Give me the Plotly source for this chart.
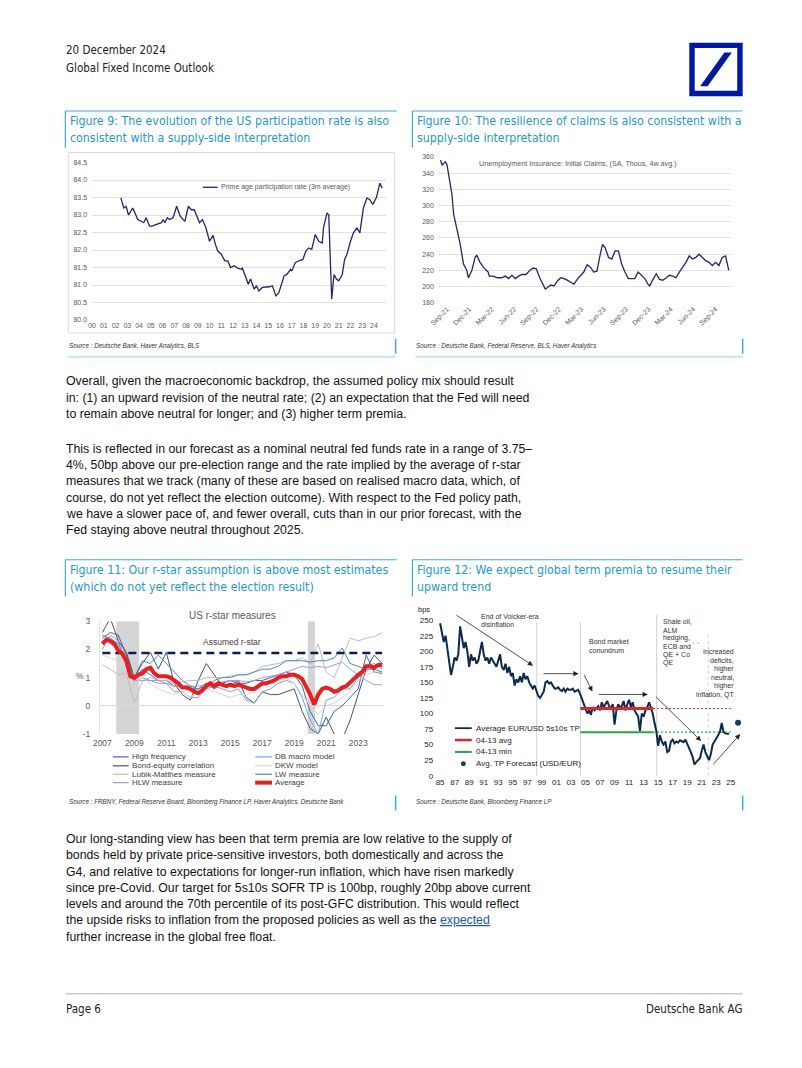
import plotly.graph_objects as go

W, H = 802, 1068

# ---------------- DATA ----------------
# Figure 9: prime age participation rate (3m avg)
part_years = [2002.45, 2002.7, 2002.9, 2003.1, 2003.46, 2003.9, 2004.4, 2004.6, 2004.9, 2005.1,
              2005.5, 2005.9, 2006.05, 2006.2, 2006.4, 2006.6, 2006.9, 2007.2, 2007.5, 2007.9,
              2008.2, 2008.45, 2008.7, 2009.15, 2009.4, 2009.7, 2010.0, 2010.3, 2010.5, 2010.7,
              2011.0, 2011.3, 2011.55, 2011.8, 2012.1, 2012.4, 2012.7, 2012.8, 2013.1, 2013.3,
              2013.5, 2013.8, 2014.0, 2014.2, 2014.5, 2014.8, 2015.1, 2015.35, 2015.65, 2015.9,
              2016.1, 2016.35, 2016.6, 2016.9, 2017.0, 2017.3, 2017.65, 2017.95, 2018.2, 2018.45,
              2018.7, 2019.0, 2019.3, 2019.6, 2019.7, 2020.0, 2020.15, 2020.4, 2020.6, 2020.8,
              2021.0, 2021.3, 2021.5, 2021.7, 2022.0, 2022.25, 2022.55, 2022.8, 2023.1, 2023.4,
              2023.65, 2023.9, 2024.2, 2024.5, 2024.7]
part_rate = [83.49, 83.2, 83.25, 83.0, 83.2, 82.87, 82.78, 82.92, 82.68, 82.68,
             82.73, 82.78, 82.87, 82.78, 82.92, 82.87, 82.92, 83.25, 82.97, 82.82,
             83.25, 83.15, 83.15, 82.78, 82.87, 82.63, 82.25, 82.42, 82.16, 81.97,
             81.88, 81.69, 81.69, 81.5, 81.55, 81.48, 81.45, 81.48, 81.21, 81.02,
             81.17, 80.88, 80.98, 80.83, 80.93, 80.93, 80.95, 80.98, 80.69, 80.78,
             81.02, 81.26, 81.31, 81.45, 81.4, 81.64, 81.7, 81.73, 81.97, 82.06,
             82.02, 82.44, 82.25, 82.2, 82.63, 83.06, 83.01, 80.6, 81.3, 81.17,
             81.12, 81.3, 81.73, 81.88, 82.25, 82.49, 82.63, 82.49, 83.2, 83.49,
             83.44, 83.3, 83.49, 83.91, 83.77]
part_xticks = [2000, 2001, 2002, 2003, 2004, 2005, 2006, 2007, 2008, 2009, 2010, 2011, 2012,
               2013, 2014, 2015, 2016, 2017, 2018, 2019, 2020, 2021, 2022, 2023, 2024]
part_xlabels = ["00", "01", "02", "03", "04", "05", "06", "07", "08", "09", "10", "11", "12",
                "13", "14", "15", "16", "17", "18", "19", "20", "21", "22", "23", "24"]
part_yticks = [80.0, 80.5, 81.0, 81.5, 82.0, 82.5, 83.0, 83.5, 84.0, 84.5]

# Figure 10: initial claims (months since Sep-21)
claims_months = [-0.88, -0.66, -0.44, -0.22, 0.0, 0.22, 0.67, 0.89, 1.33, 1.77,
                 2.21, 2.65, 2.87, 3.32, 3.76, 3.98, 4.42, 4.86, 5.30, 5.52,
                 5.66, 6.19, 6.76, 7.29, 7.82, 8.26, 8.70, 9.15, 9.59, 10.03,
                 10.60, 11.09, 11.53, 11.97, 12.42, 12.86, 13.17, 13.48, 13.92, 14.36,
                 14.80, 15.24, 15.68, 16.12, 16.57, 17.01, 17.45, 17.89, 18.33, 18.78,
                 19.22, 19.66, 20.10, 20.54, 20.85, 21.20, 21.65, 22.09, 22.53, 22.97,
                 23.41, 23.85, 24.30, 24.74, 25.18, 25.62, 26.06, 26.51, 26.95, 27.17,
                 27.61, 28.05, 28.49, 28.93, 29.38, 29.82, 30.26, 30.70, 31.14, 31.58,
                 32.03, 32.47, 32.91, 33.35, 33.79, 34.23, 34.68, 35.12, 35.56, 36.00,
                 36.44, 36.89, 37.33, 37.77]
claims_vals = [356, 350, 352, 354, 350, 338, 313, 289, 272, 252,
               228, 220, 211, 220, 236, 239, 230, 224, 220, 218,
               213, 213, 211, 211, 213, 210, 214, 210, 213, 215,
               215, 220, 223, 222, 211, 203, 197, 199, 202, 201,
               207, 211, 210, 208, 205, 203, 209, 213, 218, 227,
               224, 218, 219, 240, 252, 248, 236, 234, 244, 244,
               228, 218, 210, 210, 210, 218, 214, 210, 203, 201,
               209, 216, 209, 208, 211, 214, 213, 211, 218, 224,
               230, 238, 234, 236, 240, 236, 232, 230, 226, 230,
               226, 236, 238, 220]
claims_xticks = [0, 3, 6, 9, 12, 15, 18, 21, 24, 27, 30, 33, 36]
claims_xlabels = ["Sep-21", "Dec-21", "Mar-22", "Jun-22", "Sep-22", "Dec-22", "Mar-23",
                  "Jun-23", "Sep-23", "Dec-23", "Mar-24", "Jun-24", "Sep-24"]
claims_yticks = [180, 200, 220, 240, 260, 280, 300, 320, 340, 360]

# Figure 11: r-star measures (semi-annual 2007.0 ... 2024.5)
rstar_years = [2007.0, 2007.5, 2008.0, 2008.5, 2009.0, 2009.5, 2010.0, 2010.5, 2011.0, 2011.5,
               2012.0, 2012.5, 2013.0, 2013.5, 2014.0, 2014.5, 2015.0, 2015.5, 2016.0, 2016.5,
               2017.0, 2017.5, 2018.0, 2018.5, 2019.0, 2019.5, 2020.0, 2020.5, 2021.0, 2021.5,
               2022.0, 2022.5, 2023.0, 2023.5, 2024.0, 2024.5]
high_freq = [2.4, 2.6, 2.5, 1.8, 0.9, 1.3, 1.1, 0.9, 0.9, 0.7, 0.7, 0.6, 0.6, 0.8, 0.6, 0.8, 0.9, 0.8,
             0.8, 0.9, 0.9, 1.0, 1.1, 1.2, 1.1, 0.7, -0.2, -0.7, -0.7, -0.2, 0.0, 0.3, 0.6, 1.8, 1.2, 1.15]
bond_equity = [2.6, 3.1, 2.3, 1.9, 1.0, 1.5, 1.9, 1.3, 1.9, 0.8, 0.4, 0.2, 0.9, 1.5, 1.1, 0.7, 0.7, 0.9,
               0.3, 0.1, 0.5, 0.4, 0.4, 0.5, 0.6, -0.2, -0.8, -1.0, -0.4, -1.0, -1.2, -0.5, 0.4, 1.3, 1.8, 1.5]
lubik_matthes = [1.45, 1.3, 1.1, 1.15, 0.1, 0.9, 1.0, 0.9, 0.9, 0.8, 0.85, 0.9, 0.9, 1.0, 1.0, 1.0, 1.05, 1.1,
                 1.1, 1.2, 1.4, 1.45, 1.5, 1.6, 1.6, 1.7, 1.5, 2.2, 1.2, 1.0, 1.7, 2.4, 2.3, 2.4, 2.45, 2.6]
hlw = [2.3, 2.2, 2.0, 1.5, 0.9, 0.9, 0.9, 0.9, 0.8, 0.7, 0.7, 0.7, 0.7, 0.75, 0.8, 0.85, 0.9, 0.9,
       0.85, 0.9, 1.0, 1.05, 1.1, 1.2, 1.3, 1.4, 1.35, 1.4, 1.35, 1.45, 1.55, 1.3, 1.1, 0.9, 0.75, 0.75]
db_macro = [2.0, 2.5, 2.3, 1.4, 0.8, 1.0, 0.9, 0.8, 0.8, 0.5, 0.5, 0.3, 0.3, 0.6, 0.7, 0.6, 0.5, 0.6,
            0.2, 0.1, 0.5, 0.6, 0.8, 0.9, 0.8, 0.3, -0.5, -1.0, 0.2, 0.3, 0.6, 0.6, 1.0, 1.4, 1.5, 1.3]
dkw = [1.8, 1.7, 1.6, 1.2, 0.8, 1.0, 0.8, 0.6, 0.5, 0.4, 0.5, 0.3, 0.5, 0.6, 0.5, 0.4, 0.3, 0.4,
       0.4, 0.5, 0.7, 0.8, 0.9, 1.0, 0.8, 0.4, 0.0, -0.3, 0.0, 0.1, 0.3, 0.5, 0.9, 1.1, 1.2, 1.2]
lw = [2.5, 2.4, 2.2, 1.6, 1.0, 1.6, 1.5, 1.8, 1.5, 1.2, 0.9, 0.7, 0.6, 0.7, 0.9, 1.0, 1.0, 1.1,
      1.1, 1.2, 1.3, 1.3, 1.4, 1.6, 1.6, 1.6, 1.55, 1.6, 1.6, 1.7, 2.05, 1.5, 1.4, 1.3, 1.3, 1.2]
avg_years = [2007.0, 2007.25, 2007.5, 2007.75, 2008.0, 2008.25, 2008.5, 2008.75, 2009.0, 2009.25,
             2009.5, 2009.75, 2010.0, 2010.25, 2010.5, 2010.75, 2011.0, 2011.25, 2011.5, 2011.75,
             2012.0, 2012.25, 2012.5, 2012.75, 2013.0, 2013.25, 2013.5, 2013.75, 2014.0, 2014.25,
             2014.5, 2014.75, 2015.0, 2015.25, 2015.5, 2015.75, 2016.0, 2016.25, 2016.5, 2016.75,
             2017.0, 2017.25, 2017.5, 2017.75, 2018.0, 2018.25, 2018.5, 2018.75, 2019.0, 2019.25,
             2019.5, 2019.75, 2020.0, 2020.25, 2020.5, 2020.75, 2021.0, 2021.25, 2021.5, 2021.75,
             2022.0, 2022.25, 2022.5, 2022.75, 2023.0, 2023.25, 2023.5, 2023.75, 2024.0, 2024.25, 2024.5]
rstar_avg = [2.2, 2.35, 2.3, 2.2, 1.95, 1.85, 1.6, 1.05, 1.0, 1.1,
             1.15, 1.3, 1.35, 1.15, 1.05, 1.05, 1.05, 1.0, 0.9, 0.8,
             0.65, 0.65, 0.6, 0.5, 0.45, 0.55, 0.7, 0.8, 0.7, 0.8,
             0.75, 0.7, 0.75, 0.7, 0.75, 0.7, 0.65, 0.6, 0.6, 0.7,
             0.8, 0.8, 0.85, 0.9, 1.0, 1.05, 1.05, 1.1, 1.1, 1.05,
             0.95, 0.7, 0.4, 0.05, 0.4, 0.6, 0.65, 0.6, 0.5, 0.55,
             0.65, 0.7, 0.85, 1.0, 1.1, 1.2, 1.4, 1.4, 1.35, 1.45, 1.45]
assumed_rstar = 1.875
recessions = [(2007.87, 2009.3), (2019.85, 2020.3)]
rstar_xticks = [2007, 2009, 2011, 2013, 2015, 2017, 2019, 2021, 2023]
rstar_yticks = [-1, 0, 1, 2, 3]
rstar_ylabels = ["-1", "0", "1", "2", "3"]

# Figure 12: average EUR/USD 5s10s term premium (quarterly, bps)
tp_years = [1985 + 0.25 * i for i in range(160)]
tp_vals = [245, 230, 215, 225, 205, 180, 162, 175, 190, 185, 195, 240, 225, 205, 215, 200,
           175, 195, 185, 190, 180, 185, 200, 215, 195, 185, 190, 180, 190, 185, 180, 175,
           185, 195, 175, 170, 180, 165, 175, 160, 165, 145, 155, 150, 160, 150, 165, 155,
           160, 150, 145, 140, 145, 135, 128, 125, 130, 135, 150, 152, 148, 150, 145, 140,
           140, 142, 138, 136, 140, 135, 140, 138, 138, 140, 135, 137, 138, 132, 125, 118,
           108, 100, 105, 98, 110, 105, 108, 112, 105, 118, 110, 115, 120, 112, 108, 115,
           82, 105, 115, 110, 112, 120, 105, 115, 122, 110, 118, 105, 100, 95, 72, 100,
           95, 105, 110, 118, 110, 100, 85, 72, 48, 65, 55, 50, 55, 38, 40, 55,
           58, 52, 55, 53, 57, 55, 54, 58, 52, 45, 38, 30, 18, 22, 25, 28,
           40, 50, 38, 30, 25, 35, 50, 55, 60, 65, 70, 85, 70, 68, 67, 67]
avg_0413 = 108
min_0413 = 70
period_0413 = (2004.3, 2014.3)
extend_to = 2025.0
tp_forecast_year = 2026.0
tp_forecast = 85
regime_breaks = [(1998.3, 247, "solid"), (2004.3, 247, "solid"), (2014.8, 259, "solid"), (2021.9, 231, "dot")]
tp_xticks = [1985, 1987, 1989, 1991, 1993, 1995, 1997, 1999, 2001, 2003, 2005, 2007, 2009, 2011,
             2013, 2015, 2017, 2019, 2021, 2023, 2025]
tp_xlabels = ["85", "87", "89", "91", "93", "95", "97", "99", "01", "03", "05", "07", "09", "11",
              "13", "15", "17", "19", "21", "23", "25"]
tp_yticks = [0, 25, 50, 75, 100, 125, 150, 175, 200, 225, 250]

# ---------------- STYLE / HELPERS ----------------
BODY = "Liberation Sans, Arial, sans-serif"
NARROW = "Liberation Sans Narrow, Arial Narrow, DejaVu Sans Condensed, sans-serif"
BLUE = "#1b9ad6"
BLUE_LINE = "#3fa9df"
GRAY = "#595959"

annotations = []
shapes = []


def X(x):
    return x / W


def Y(y):
    return 1 - y / H


def text(x, y, s, size, color="#1a1a1a", family=BODY, xanchor="left", yanchor="middle", **kw):
    annotations.append(dict(x=X(x), y=Y(y), xref="paper", yref="paper", text=s, showarrow=False,
                            xanchor=xanchor, yanchor=yanchor, borderpad=0,
                            font=dict(size=size, color=color, family=family), **kw))


def pline(x0, y0, x1, y1, color, width=1, dash="solid"):
    shapes.append(dict(type="line", xref="paper", yref="paper", x0=X(x0), y0=Y(y0), x1=X(x1), y1=Y(y1),
                       line=dict(color=color, width=width, dash=dash)))


def prect(x0, y0, x1, y1, fill=None, color=None, width=1):
    shapes.append(dict(type="rect", xref="paper", yref="paper", x0=X(x0), y0=Y(y0), x1=X(x1), y1=Y(y1),
                       fillcolor=fill if fill else "rgba(0,0,0,0)",
                       line=dict(color=color if color else "rgba(0,0,0,0)", width=width if color else 0)))


fig = go.Figure()

# ---------------- FIGURE 9 ----------------
fig.add_trace(go.Scatter(x=part_years, y=part_rate, mode="lines", line=dict(color="#25236f", width=1.3),
                         xaxis="x", yaxis="y", showlegend=False, hoverinfo="skip"))
# ---------------- FIGURE 10 ----------------
fig.add_trace(go.Scatter(x=claims_months, y=claims_vals, mode="lines", line=dict(color="#25236f", width=1.3),
                         xaxis="x2", yaxis="y2", showlegend=False, hoverinfo="skip"))

# ---------------- FIGURE 11 ----------------
rstar_series = [
    ("High frequency", high_freq, "#3d63b8", 1.0),
    ("Bond-equity correlation", bond_equity, "#44546a", 1.0),
    ("Lubik-Matthes measure", lubik_matthes, "#bdbdbd", 1.0),
    ("HLW measure", hlw, "#9b9bf0", 1.0),
    ("DB macro model", db_macro, "#6fa8dc", 1.0),
    ("DKW model", dkw, "#e2d2d2", 1.0),
    ("LW measure", lw, "#4f8cae", 1.0),
]
for name, vals, color, wdt in rstar_series:
    fig.add_trace(go.Scatter(x=rstar_years, y=vals, mode="lines", name=name, line=dict(color=color, width=wdt),
                             xaxis="x3", yaxis="y3", showlegend=False, hoverinfo="skip"))
fig.add_trace(go.Scatter(x=[rstar_years[0], rstar_years[-1]], y=[assumed_rstar, assumed_rstar], mode="lines",
                         line=dict(color="#0d1f4f", width=2.5, dash="8px,5px"),
                         xaxis="x3", yaxis="y3", showlegend=False, hoverinfo="skip"))
fig.add_trace(go.Scatter(x=avg_years, y=rstar_avg, mode="lines", name="Average", line=dict(color="#ee1c1c", width=4),
                         xaxis="x3", yaxis="y3", showlegend=False, hoverinfo="skip"))
for a, b in recessions:
    shapes.append(dict(type="rect", xref="x3", yref="y3", x0=a, x1=b, y0=-1, y1=3, fillcolor="#d4d4d4",
                       line=dict(width=0), layer="below"))

# ---------------- FIGURE 12 ----------------
for xb, top, dsh in regime_breaks:
    shapes.append(dict(type="line", xref="x4", yref="y4", x0=xb, x1=xb, y0=0, y1=top,
                       line=dict(color="#cfcfcf", width=1, dash=dsh), layer="below"))
fig.add_trace(go.Scatter(x=tp_years, y=tp_vals, mode="lines", line=dict(color="#0b2a4e", width=2.0),
                         xaxis="x4", yaxis="y4", showlegend=False, hoverinfo="skip"))
fig.add_trace(go.Scatter(x=list(period_0413), y=[avg_0413, avg_0413], mode="lines", line=dict(color="#e8202a", width=3),
                         xaxis="x4", yaxis="y4", showlegend=False, hoverinfo="skip"))
fig.add_trace(go.Scatter(x=[period_0413[1], extend_to], y=[avg_0413, avg_0413], mode="lines",
                         line=dict(color="#e8202a", width=1.2, dash="2px,2px"),
                         xaxis="x4", yaxis="y4", showlegend=False, hoverinfo="skip"))
fig.add_trace(go.Scatter(x=list(period_0413), y=[min_0413, min_0413], mode="lines", line=dict(color="#22a846", width=2),
                         xaxis="x4", yaxis="y4", showlegend=False, hoverinfo="skip"))
fig.add_trace(go.Scatter(x=[period_0413[1], extend_to], y=[min_0413, min_0413], mode="lines",
                         line=dict(color="#22a846", width=1.2, dash="2px,2px"),
                         xaxis="x4", yaxis="y4", showlegend=False, hoverinfo="skip"))
fig.add_trace(go.Scatter(x=[tp_forecast_year], y=[tp_forecast], mode="markers",
                         marker=dict(color="#1d3a5c", size=6), xaxis="x4", yaxis="y4", showlegend=False,
                         hoverinfo="skip"))

# arrows on figure 12 (tail -> head in data units)
arrows = [((1987.04, 259.6), (1997.79, 176.8)), ((1999.01, 164.0), (2004.05, 164.0)),
          ((2004.73, 164.0), (2005.95, 135.4)), ((2006.63, 130.6), (2013.57, 130.6)),
          ((2014.52, 129.0), (2020.92, 55.7)), ((2022.41, 15.9), (2026.3, 66.9))]
for (tx, ty), (hx, hy) in arrows:
    annotations.append(dict(x=hx, y=hy, ax=tx, ay=ty, xref="x4", yref="y4", axref="x4", ayref="y4", text="",
                            showarrow=True, arrowhead=2, arrowsize=1.3, arrowwidth=0.8, arrowcolor="#222",
                            standoff=0, startstandoff=0))
shapes.append(dict(type="line", xref="x4", yref="y4", x0=2019.7, x1=2020.9, y0=213, y1=213,
                   line=dict(color="#aaaaaa", width=1, dash="2px,3px")))

# ---------------- AXES ----------------
def xd(a, b):
    return [a / W, b / W]


def yd(top, bottom):
    return [1 - bottom / H, 1 - top / H]


common = dict(zeroline=False, showline=False, ticks="", fixedrange=True)
layout_axes = dict(
    xaxis=dict(domain=xd(84, 381), range=[2000, 2025], tickvals=part_xticks, ticktext=part_xlabels,
               tickfont=dict(size=7, color=GRAY, family=BODY), showgrid=False, anchor="y", **common),
    yaxis=dict(domain=yd(159, 318), range=[80, 84.5], tickvals=part_yticks,
               ticktext=[f"{v:.1f}" for v in part_yticks], tickfont=dict(size=7, color=GRAY, family=BODY),
               showgrid=True, gridcolor="#d9d9d9", gridwidth=0.8, anchor="x", ticklabelstandoff=4, **common),
    xaxis2=dict(domain=xd(434.7, 729.7), range=[-1.1, 38.0], tickvals=claims_xticks, ticktext=claims_xlabels,
                tickangle=-45, tickfont=dict(size=7, color=GRAY, family=BODY), showgrid=False, anchor="y2", **common),
    yaxis2=dict(domain=yd(153.3, 300.7), range=[180, 360], tickvals=claims_yticks,
                tickfont=dict(size=7, color=GRAY, family=BODY), showgrid=True, gridcolor="#d9d9d9",
                gridwidth=0.8, anchor="x2", ticklabelstandoff=4, **common),
    xaxis3=dict(domain=xd(92, 379), range=[2006.85, 2024.6], tickvals=rstar_xticks,
                tickfont=dict(size=8.5, color=GRAY, family=BODY), showgrid=False, anchor="y3",
                zeroline=False, showline=False, ticks="", fixedrange=True, ticklabelstandoff=2),
    yaxis3=dict(domain=yd(622, 736), range=[-1, 3], tickvals=rstar_yticks, ticktext=rstar_ylabels,
                tickfont=dict(size=8.5, color=GRAY, family=BODY), showgrid=False, anchor="x3",
                zeroline=True, zerolinecolor="#d9d9d9", zerolinewidth=1, showline=True, linecolor="#e3e3e3",
                linewidth=1, ticks="", fixedrange=True, ticklabelstandoff=7),
    xaxis4=dict(domain=xd(433, 745), range=[1984.59, 2027.04], tickvals=tp_xticks, ticktext=tp_xlabels,
                tickfont=dict(size=8, color="#222", family=BODY), showgrid=False, anchor="y4", **common),
    yaxis4=dict(domain=yd(610, 778), range=[0, 267.5], tickvals=tp_yticks,
                tickfont=dict(size=8, color="#222", family=BODY), showgrid=False, anchor="x4",
                ticklabelstandoff=3, **common),
)

# ---------------- PAGE TEXT / DECOR ----------------
# header
text(57, 45, "20 December 2024", 11.5, "#222", NARROW)
text(57, 63.5, "Global Fixed Income Outlook", 11.5, "#222", NARROW)
# logo
prect(688, 38, 742, 92, fill="#0018a8")
prect(693.5, 43.5, 736.5, 86.5, fill="#ffffff")
pts = [(699, 82), (706.5, 82), (731, 48), (723.5, 48)]
path = "M " + " L ".join(f"{X(a):.5f},{Y(b):.5f}" for a, b in pts) + " Z"
shapes.append(dict(type="path", xref="paper", yref="paper", path=path, fillcolor="#0018a8", line=dict(width=0)))

# figure title boxes
for (x0, x1, yt, l1, l2) in [
    (57, 392, 107, "Figure 9: The evolution of the US participation rate is also", "consistent with a supply-side interpretation"),
    (408, 742, 107, "Figure 10: The resilience of claims is also consistent with a", "supply-side interpretation"),
    (57, 392, 560, "Figure 11: Our r-star assumption is above most estimates", "(which do not yet reflect the election result)"),
    (408, 742, 560, "Figure 12: We expect global term premia to resume their", "upward trend"),
]:
    pline(x0, yt, x1, yt, BLUE_LINE, 1.2)
    pline(x0, yt, x0, yt + 37, BLUE_LINE, 1.2)
    text(x0 + 4, yt + 10.5, l1, 12.3, BLUE, NARROW)
    text(x0 + 4, yt + 27.5, l2, 12.3, BLUE, NARROW)

# sources
SRC = dict(size=6.3, color="#333", family=BODY)
text(60, 344, "<i>Source : Deutsche Bank, Haver Analytics, BLS</i>", **SRC)
text(411, 344, "<i>Source : Deutsche Bank, Federal Reserve, BLS, Haver Analytics</i>", **SRC)
text(60, 805, "<i>Source : FRBNY, Federal Reserve Board, Bloomberg Finance LP, Haver Analytics, Deutsche Bank</i>", **SRC)
text(411, 805, "<i>Source : Deutsche Bank, Bloomberg Finance LP</i>", **SRC)
for xb in (391, 742):
    pline(xb, 337, xb, 352, BLUE_LINE, 1.5)
    pline(xb, 798, xb, 813, BLUE_LINE, 1.5)
pline(60, 355, 391, 355, "#bfe6f6", 2)
pline(411, 355, 742, 355, "#bfe6f6", 2)

# figure 9 frame + legend
prect(60, 149, 390, 331, color="#d9d9d9", width=1)
pline(196, 184, 211, 184, "#25236f", 1.3)
text(213, 184, "Prime age participation rate (3m average)", 7, GRAY)

# figure 10 title
text(575.5, 160, "Unemployment Insurance: Initial Claims, (SA, Thous, 4w avg.)", 7.2, GRAY, xanchor="center")

# figure 11 labels + legend
text(226, 616, "US r-star measures", 10, GRAY, xanchor="center")
text(226, 643, "Assumed r-star", 8.5, "#404040", xanchor="center")
text(72, 677, "%", 8.5, GRAY, xanchor="center")
legend_rows = [759, 768, 776.5, 785]
col1 = [rstar_series[0], rstar_series[1], rstar_series[2], rstar_series[3]]
col2 = [rstar_series[4], rstar_series[5], rstar_series[6], ("Average", None, "#ee1c1c", 4)]
for i, (name, _, color, wdt) in enumerate(col1):
    pline(105, legend_rows[i], 121, legend_rows[i], color, max(wdt, 1.2))
    text(123, legend_rows[i], name, 8, "#404040")
for i, (name, _, color, wdt) in enumerate(col2):
    pline(249, legend_rows[i], 266, legend_rows[i], color, max(wdt, 1.2))
    text(268, legend_rows[i], name, 8, "#404040")

# figure 12 labels + legend
text(420, 610, "bps", 7.5, "#222", xanchor="center")
TXT12 = dict(size=7, color="#333")
for i, s in enumerate(["End of Volcker-era", "disinflation"]):
    text(476, 617 + 8.4 * i, s, **TXT12)
for i, s in enumerate(["Bond market", "conundrum"]):
    text(586, 643 + 8.8 * i, s, **TXT12)
for i, s in enumerate(["Shale oil,", "ALM", "hedging,", "ECB and", "QE + Co", "QE"]):
    text(660, 622.7 + 8.3 * i, s, **TXT12)
for i, s in enumerate(["Increased", "deficits,", "higher", "neutral,", "higher", "inflation, QT"]):
    text(734, 653 + 8.7 * i, s, xanchor="right", **TXT12)
leg12 = [730, 742, 754, 766]
pline(451, leg12[0], 468, leg12[0], "#0b2a4e", 1.8)
text(471, leg12[0], "Average EUR/USD 5s10s TP", 8, "#222")
pline(451, leg12[1], 468, leg12[1], "#e8202a", 2.5)
text(471, leg12[1], "04-13 avg", 8, "#222")
pline(451, leg12[2], 468, leg12[2], "#22a846", 2)
text(471, leg12[2], "04-13 min", 8, "#222")
shapes.append(dict(type="circle", xref="paper", yref="paper", x0=X(457), x1=X(462), y0=Y(768.5), y1=Y(763.5),
                   fillcolor="#1d3a5c", line=dict(width=0)))
text(471, leg12[3], "Avg. TP Forecast (USD/EUR)", 8, "#222")

# body paragraphs
BSZ = 12.3
p1 = ["Overall, given the macroeconomic backdrop, the assumed policy mix should result",
      "in: (1) an upward revision of the neutral rate; (2) an expectation that the Fed will need",
      "to remain above neutral for longer; and (3) higher term premia."]
p2 = ["This is reflected in our forecast as a nominal neutral fed funds rate in a range of 3.75–",
      "4%, 50bp above our pre-election range and the rate implied by the average of r-star",
      "measures that we track (many of these are based on realised macro data, which, of",
      "course, do not yet reflect the election outcome). With respect to the Fed policy path,",
      "we have a slower pace of, and fewer overall, cuts than in our prior forecast, with the",
      "Fed staying above neutral throughout 2025."]
p3 = ["Our long-standing view has been that term premia are low relative to the supply of",
      "bonds held by private price-sensitive investors, both domestically and across the",
      "G4, and relative to expectations for longer-run inflation, which have risen markedly",
      "since pre-Covid. Our target for 5s10s SOFR TP is 100bp, roughly 20bp above current",
      "levels and around the 70th percentile of its post-GFC distribution. This would reflect",
      "the upside risks to inflation from the proposed policies as well as the "
      "<span style='color:#1a55c8'><u>expected</u></span>",
      "further increase in the global free float."]
for start, lines in [(380, p1), (448, p2), (842, p3)]:
    for i, s in enumerate(lines):
        text(57, start + 16.4 * i, s, BSZ, "#111", BODY)

# footer
pline(57, 998, 742, 998, "#c8c8c8", 1.5)
text(57, 1013, "Page 6", 11.5, "#222", NARROW)
text(742, 1013, "Deutsche Bank AG", 11.5, "#222", NARROW, xanchor="right")

fig.update_layout(width=W, height=H, margin=dict(l=0, r=0, t=0, b=0), paper_bgcolor="white",
                  plot_bgcolor="white", showlegend=False, annotations=annotations, shapes=shapes,
                  **layout_axes)
fig.write_html("out.html", config={"displayModeBar": False, "staticPlot": True},
               post_script="document.body.style.margin='0px';document.body.style.padding='0px';"
                           "document.body.style.overflow='hidden';")
